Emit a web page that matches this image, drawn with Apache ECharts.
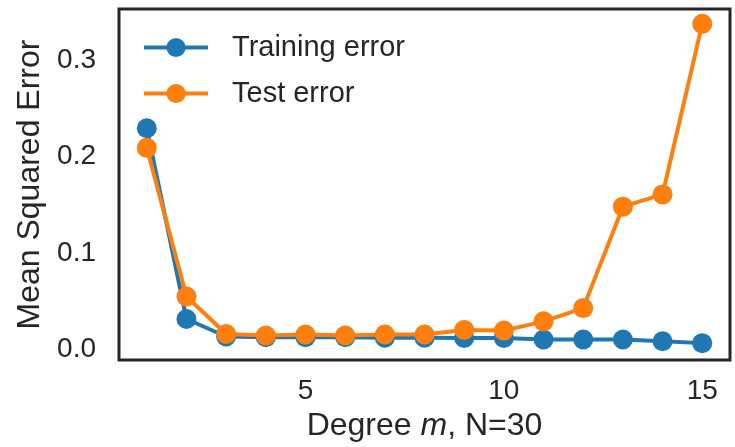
<!DOCTYPE html>
<html>
<head>
<meta charset="utf-8">
<script src="https://cdn.jsdelivr.net/npm/echarts@6/dist/echarts.min.js"></script>
<style>
html,body{margin:0;padding:0;background:#fff;}
#chart{width:735px;height:447px;}
</style>
</head>
<body>
<div id="chart"></div>
<script>
const degrees = [1,2,3,4,5,6,7,8,9,10,11,12,13,14,15];
const trainingError = [0.2293,0.0315,0.0134,0.0127,0.0127,0.0127,0.0121,0.0121,0.0119,0.0119,0.0103,0.0103,0.0103,0.0085,0.0065];
const testError = [0.2090,0.0548,0.0160,0.0144,0.0154,0.0144,0.0154,0.0154,0.0202,0.0195,0.0291,0.0428,0.1480,0.1607,0.3376];
const xTicks = [5,10,15];
const yTicks = [0.0,0.1,0.2,0.3];

const FONT = 'Liberation Sans, Arial, sans-serif';
const TXT = '#262626';
const chart = echarts.init(document.getElementById('chart'), null, {renderer:'canvas'});
const pair = (xs, ys) => xs.map((x,i)=>[x, ys[i]]);
chart.setOption({
  animation:false,
  backgroundColor:'#fff',
  grid:{left:119, right:5, top:9, bottom:84, show:true, borderColor:'#262626', borderWidth:3, backgroundColor:'transparent'},
  legend:{
    left:142, top:33, padding:0, orient:'vertical', itemWidth:64, itemHeight:24, itemGap:17,
    lineStyle:{width:4},
    textStyle:{fontFamily:FONT, fontSize:29, color:TXT, padding:[0,0,0,19]},
    data:['Training error','Test error']
  },
  xAxis:{
    type:'value', min:0.3, max:15.7,
    axisLine:{show:false}, axisTick:{show:false}, splitLine:{show:false},
    axisLabel:{fontFamily:FONT, fontSize:28, color:TXT, margin:17, customValues:xTicks,
      formatter:v=>String(v)},
    name:'{n|Degree }{i|m}{n|, N=30}', nameLocation:'middle', nameGap:50,
    nameTextStyle:{fontFamily:FONT, fontSize:32, color:TXT,
      rich:{n:{fontFamily:FONT, fontSize:32, color:TXT}, i:{fontFamily:FONT, fontSize:32, color:TXT, fontStyle:'italic'}}}
  },
  yAxis:{
    type:'value', min:-0.011, max:0.353,
    axisLine:{show:false}, axisTick:{show:false}, splitLine:{show:false},
    axisLabel:{fontFamily:FONT, fontSize:28, color:TXT, margin:23, customValues:yTicks,
      formatter:v=>v.toFixed(1)},
    name:'Mean Squared Error', nameLocation:'middle', nameGap:66,
    nameTextStyle:{fontFamily:FONT, fontSize:32, color:TXT}
  },
  series:[
    {name:'Training error', type:'line', data:pair(degrees, trainingError), z:2,
      symbol:'circle', symbolSize:20, lineStyle:{width:4, color:'#1f77b4'}, itemStyle:{color:'#1f77b4'}},
    {name:'Test error', type:'line', data:pair(degrees, testError), z:3,
      symbol:'circle', symbolSize:20, lineStyle:{width:4, color:'#ff7f0e'}, itemStyle:{color:'#ff7f0e'}}
  ]
});
</script>
</body>
</html>
